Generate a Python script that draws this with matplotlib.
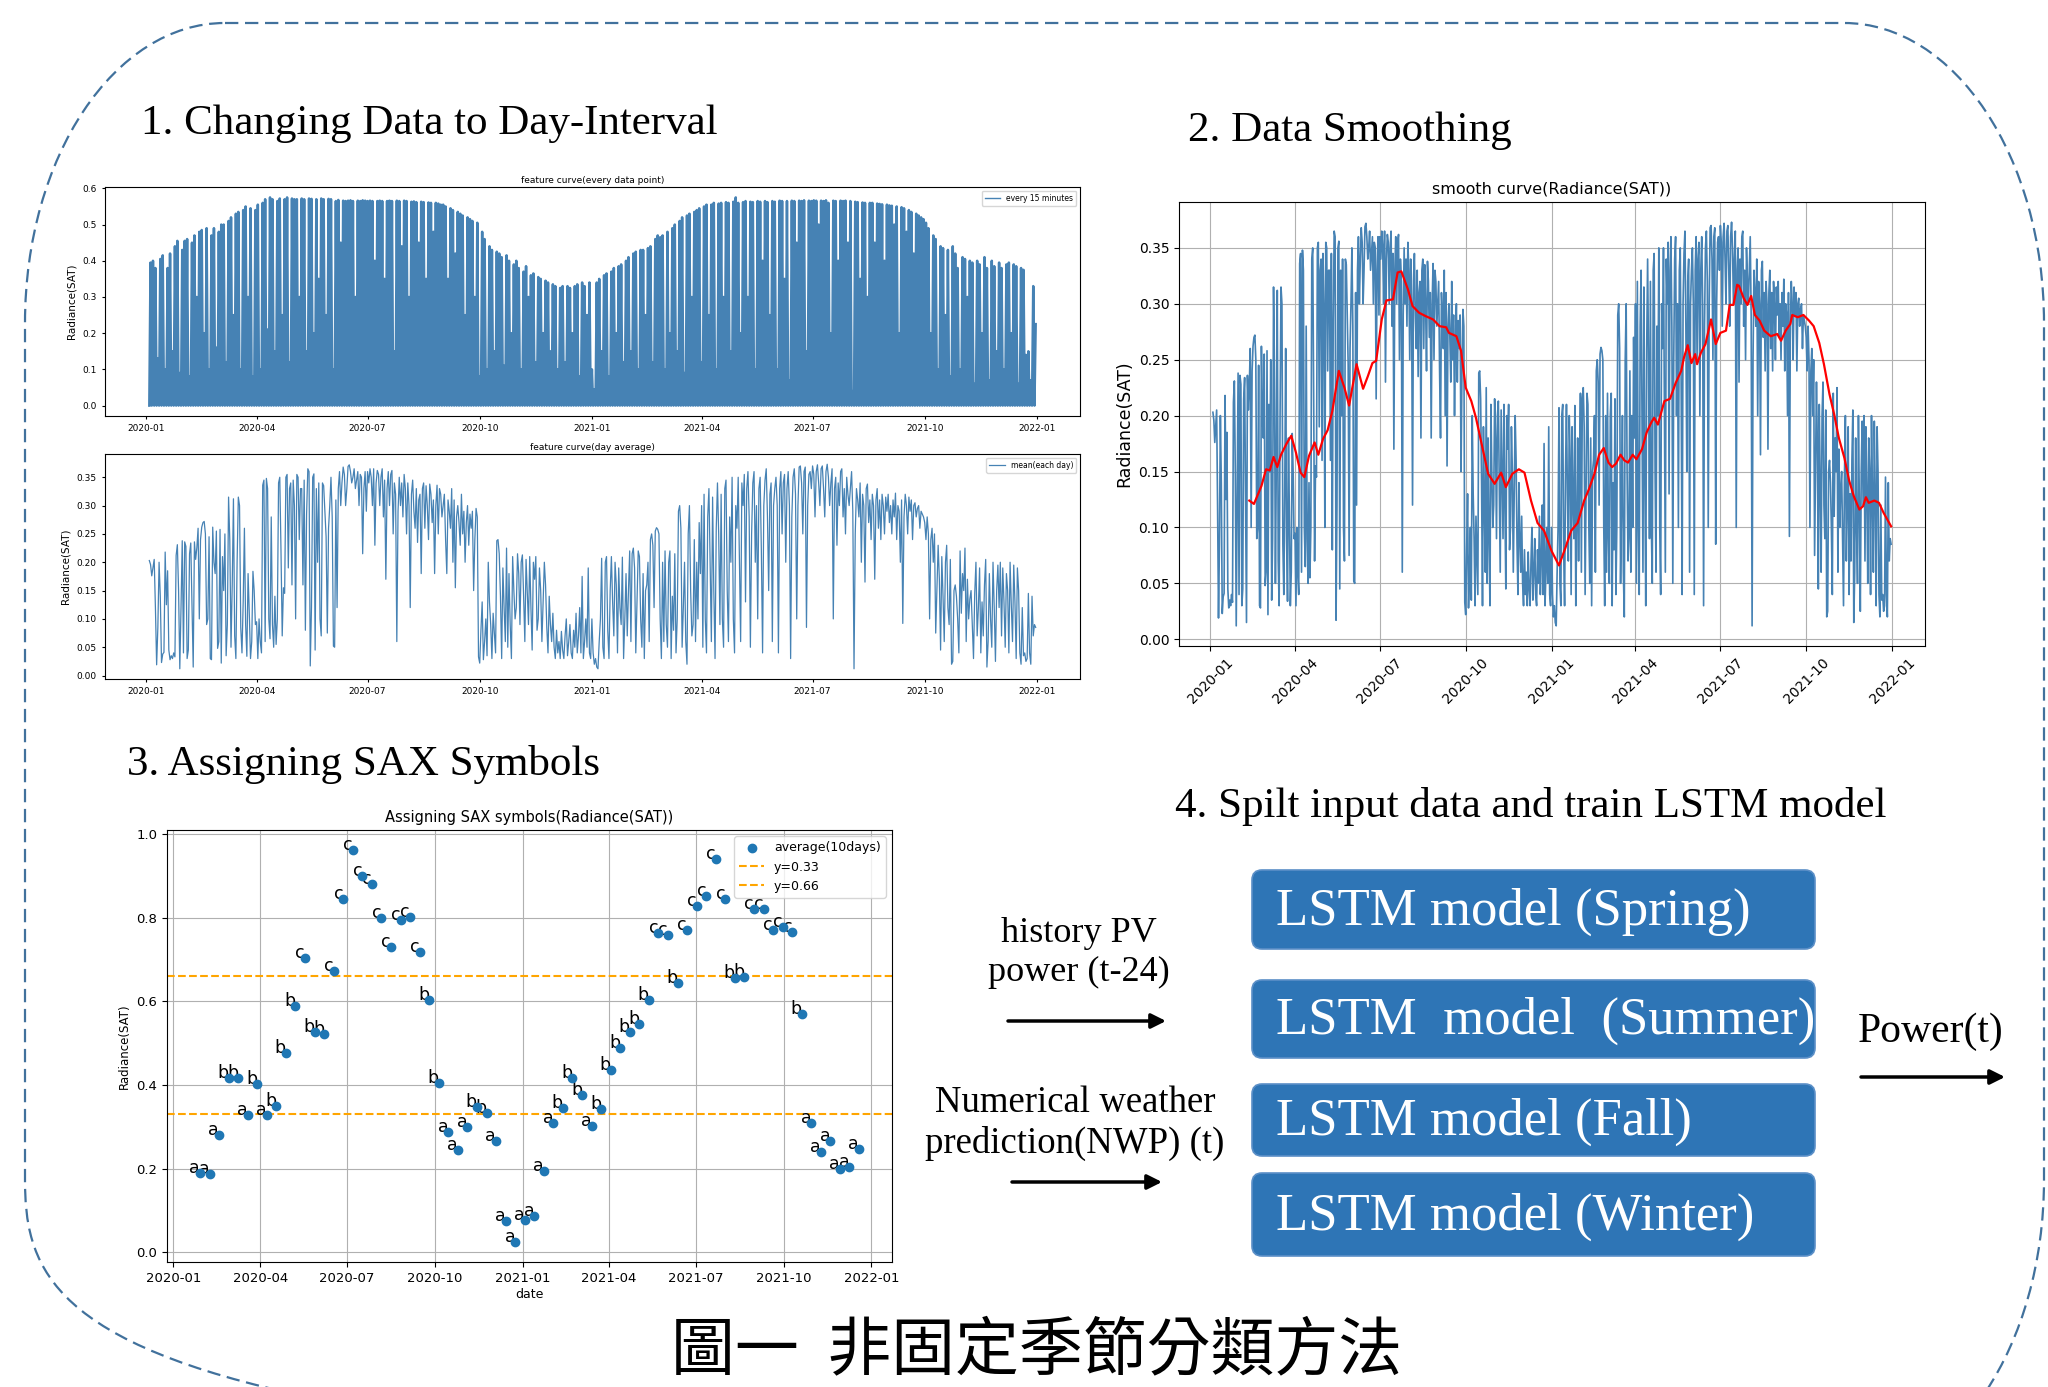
import numpy as np
import pandas as pd
import matplotlib
matplotlib.use('Agg')
import matplotlib.pyplot as plt
import matplotlib.dates as mdates
from matplotlib.path import Path
from matplotlib.patches import PathPatch, FancyBboxPatch

# 日平均輻射量 Radiance(SAT)，2020-01-04 起每日一筆
day_start = '2020-01-04'
day_mean_2020 = [
    0.203, 0.196, 0.176, 0.190, 0.205, 0.120, 0.019, 0.085, 0.200, 0.140, 0.023, 0.038, 0.041, 0.218,
    0.125, 0.185, 0.045, 0.028, 0.035, 0.030, 0.040, 0.033, 0.212, 0.231, 0.150, 0.012, 0.120, 0.238,
    0.040, 0.236, 0.228, 0.030, 0.045, 0.215, 0.234, 0.120, 0.015, 0.236, 0.205, 0.226, 0.260, 0.100, 0.240,
    0.262, 0.270, 0.272, 0.250, 0.090, 0.100, 0.245, 0.030, 0.028, 0.262, 0.200, 0.180, 0.255, 0.048,
    0.060, 0.258, 0.022, 0.210, 0.150, 0.250, 0.035, 0.090, 0.315, 0.240, 0.050, 0.160, 0.312, 0.070, 0.030,
    0.200, 0.315, 0.300, 0.085, 0.040, 0.130, 0.260, 0.090, 0.034, 0.180, 0.110, 0.030, 0.060, 0.184, 0.150, 0.090,
    0.095, 0.030, 0.100, 0.060, 0.040, 0.336, 0.345, 0.060, 0.348, 0.330, 0.100, 0.065, 0.280, 0.090, 0.050,
    0.140, 0.055, 0.100, 0.340, 0.350, 0.220, 0.070, 0.155, 0.145, 0.350, 0.355, 0.190, 0.330, 0.340, 0.160,
    0.345, 0.300, 0.100, 0.355, 0.350, 0.240, 0.330, 0.330, 0.160, 0.345, 0.080, 0.285, 0.365, 0.360, 0.017,
    0.120, 0.350, 0.356, 0.045, 0.330, 0.200, 0.340, 0.100, 0.070, 0.340, 0.335, 0.290, 0.245, 0.075, 0.260, 0.300,
    0.350, 0.280, 0.052, 0.050, 0.310, 0.120, 0.330, 0.360, 0.300, 0.340, 0.368, 0.355, 0.300, 0.330, 0.369,
    0.372, 0.360, 0.340, 0.350, 0.365, 0.330, 0.345, 0.360, 0.300, 0.355, 0.350, 0.215, 0.330, 0.360, 0.290,
    0.360, 0.340, 0.365, 0.350, 0.300, 0.365, 0.230, 0.340, 0.362, 0.355, 0.300, 0.350, 0.365, 0.280, 0.345,
    0.170, 0.330, 0.360, 0.300, 0.355, 0.362, 0.250, 0.340, 0.320, 0.060, 0.290, 0.350, 0.300, 0.340, 0.280, 0.355,
    0.330, 0.250, 0.340, 0.300, 0.120, 0.320, 0.345, 0.290, 0.260, 0.330, 0.235, 0.310, 0.320, 0.180, 0.330,
    0.340, 0.260, 0.335, 0.300, 0.240, 0.338, 0.320, 0.270, 0.310, 0.180, 0.300, 0.336, 0.250, 0.330, 0.320, 0.280,
    0.300, 0.320, 0.240, 0.180, 0.310, 0.290, 0.260, 0.330, 0.200, 0.310, 0.155, 0.280, 0.300, 0.270, 0.230,
    0.320, 0.250, 0.290, 0.200, 0.270, 0.300, 0.230, 0.285, 0.260, 0.290, 0.150, 0.240, 0.295, 0.280, 0.033,
    0.022, 0.080, 0.130, 0.028, 0.060, 0.100, 0.035, 0.200, 0.130, 0.090, 0.030, 0.110, 0.075, 0.040, 0.238,
    0.240, 0.215, 0.140, 0.030, 0.190, 0.120, 0.060, 0.225, 0.050, 0.180, 0.090, 0.030, 0.210, 0.150, 0.100, 0.120,
    0.215, 0.180, 0.090, 0.200, 0.213, 0.140, 0.060, 0.205, 0.150, 0.090, 0.210, 0.120, 0.045, 0.200, 0.170,
    0.210, 0.080, 0.100, 0.190, 0.150, 0.060, 0.130, 0.200, 0.160, 0.085, 0.040, 0.140, 0.090, 0.060, 0.110,
    0.050, 0.030, 0.080, 0.040, 0.060, 0.030, 0.078, 0.045, 0.030, 0.070, 0.100, 0.035, 0.060, 0.090, 0.040,
    0.030, 0.080, 0.050, 0.110, 0.040, 0.070, 0.120, 0.040, 0.175, 0.030, 0.060, 0.100, 0.050, 0.190, 0.040, 0.030,
]
day_mean_2021 = [
    0.100, 0.040, 0.020, 0.030, 0.015, 0.012, 0.060, 0.100, 0.207, 0.050, 0.030, 0.200, 0.210, 0.080, 0.030,
    0.150, 0.210, 0.130, 0.070, 0.200, 0.160, 0.040, 0.190, 0.120, 0.090, 0.209, 0.030, 0.100, 0.180, 0.070, 0.150,
    0.220, 0.060, 0.215, 0.225, 0.190, 0.040, 0.130, 0.220, 0.210, 0.100, 0.050, 0.180, 0.030, 0.150,
    0.160, 0.200, 0.060, 0.240, 0.250, 0.230, 0.120, 0.255, 0.261, 0.258, 0.250, 0.100, 0.030, 0.200,
    0.060, 0.220, 0.090, 0.050, 0.200, 0.220, 0.030, 0.140, 0.080, 0.215, 0.040, 0.100, 0.290, 0.300, 0.260,
    0.050, 0.120, 0.200, 0.060, 0.020, 0.250, 0.300, 0.150, 0.070, 0.090, 0.240, 0.060, 0.200, 0.100, 0.270, 0.180,
    0.300, 0.050, 0.320, 0.100, 0.040, 0.280, 0.330, 0.200, 0.060, 0.315, 0.150, 0.030, 0.260, 0.340, 0.250,
    0.090, 0.320, 0.100, 0.050, 0.330, 0.345, 0.150, 0.060, 0.280, 0.200, 0.350, 0.100, 0.040, 0.300, 0.260,
    0.350, 0.200, 0.060, 0.340, 0.300, 0.355, 0.130, 0.330, 0.360, 0.280, 0.050, 0.250, 0.340, 0.360, 0.200,
    0.300, 0.100, 0.330, 0.350, 0.220, 0.040, 0.300, 0.345, 0.365, 0.280, 0.150, 0.320, 0.340, 0.060, 0.300, 0.330,
    0.350, 0.300, 0.040, 0.330, 0.360, 0.250, 0.340, 0.355, 0.200, 0.330, 0.360, 0.300, 0.030, 0.280, 0.350,
    0.365, 0.320, 0.100, 0.300, 0.368, 0.370, 0.340, 0.250, 0.360, 0.368, 0.085, 0.300, 0.355, 0.360, 0.330,
    0.370, 0.355, 0.280, 0.360, 0.372, 0.340, 0.300, 0.365, 0.370, 0.330, 0.280, 0.360, 0.373, 0.350, 0.300,
    0.340, 0.365, 0.100, 0.330, 0.350, 0.230, 0.340, 0.300, 0.360, 0.365, 0.280, 0.330, 0.250, 0.350, 0.320, 0.300,
    0.330, 0.360, 0.290, 0.012, 0.250, 0.330, 0.310, 0.280, 0.340, 0.200, 0.320, 0.300, 0.165, 0.330, 0.338,
    0.270, 0.310, 0.240, 0.320, 0.300, 0.170, 0.310, 0.330, 0.260, 0.310, 0.240, 0.320, 0.300, 0.250, 0.315, 0.290,
    0.320, 0.270, 0.300, 0.250, 0.310, 0.280, 0.322, 0.240, 0.300, 0.290, 0.200, 0.310, 0.092, 0.280, 0.320,
    0.300, 0.250, 0.315, 0.290, 0.310, 0.240, 0.300, 0.305, 0.280, 0.295, 0.300, 0.260, 0.290, 0.285, 0.280,
    0.270, 0.240, 0.280, 0.250, 0.100, 0.240, 0.260, 0.200, 0.250, 0.075, 0.150, 0.230, 0.170, 0.045, 0.210,
    0.140, 0.060, 0.200, 0.230, 0.120, 0.090, 0.205, 0.020, 0.025, 0.150, 0.160, 0.140, 0.100, 0.040, 0.220, 0.110,
    0.180, 0.150, 0.225, 0.060, 0.170, 0.100, 0.135, 0.150, 0.090, 0.030, 0.145, 0.200, 0.070, 0.120, 0.190,
    0.040, 0.130, 0.070, 0.160, 0.205, 0.015, 0.060, 0.180, 0.100, 0.050, 0.200, 0.120, 0.025, 0.150, 0.195,
    0.120, 0.200, 0.070, 0.190, 0.130, 0.050, 0.180, 0.150, 0.040, 0.200, 0.125, 0.060, 0.195, 0.130, 0.030,
    0.190, 0.150, 0.040, 0.020, 0.120, 0.035, 0.040, 0.025, 0.030, 0.145, 0.040, 0.020, 0.140, 0.070, 0.090, 0.085,
]

# 15 分鐘資料每兩天的日最高值
peak_start = '2020-01-04'
peak_2d = [
    0.395, 0.400, 0.380, 0.130, 0.405, 0.415, 0.100, 0.380, 0.420, 0.150, 0.440, 0.455, 0.090, 0.430, 0.455,
    0.460, 0.080, 0.450, 0.470, 0.300, 0.480, 0.485, 0.200, 0.490, 0.100, 0.470, 0.490, 0.160, 0.480, 0.500,
    0.500, 0.120, 0.510, 0.520, 0.250, 0.530, 0.535, 0.100, 0.540, 0.550, 0.300, 0.545, 0.080, 0.540, 0.555,
    0.100, 0.560, 0.570, 0.210, 0.575, 0.570, 0.150, 0.565, 0.572, 0.250, 0.570, 0.575, 0.120, 0.572, 0.570,
    0.570, 0.300, 0.572, 0.570, 0.150, 0.572, 0.571, 0.200, 0.570, 0.350, 0.572, 0.570, 0.250, 0.571, 0.570,
    0.100, 0.565, 0.568, 0.450, 0.566, 0.565, 0.566, 0.567, 0.565, 0.300, 0.566, 0.565, 0.567, 0.566, 0.565,
    0.566, 0.565, 0.400, 0.565, 0.566, 0.565, 0.350, 0.565, 0.566, 0.565, 0.150, 0.566, 0.565, 0.440, 0.566,
    0.565, 0.300, 0.563, 0.564, 0.562, 0.450, 0.563, 0.562, 0.350, 0.561, 0.560, 0.480, 0.560, 0.558, 0.555,
    0.555, 0.550, 0.350, 0.545, 0.540, 0.420, 0.535, 0.530, 0.525, 0.250, 0.520, 0.515, 0.510, 0.300, 0.505,
    0.080, 0.480, 0.460, 0.100, 0.440, 0.430, 0.150, 0.425, 0.420, 0.410, 0.110, 0.415, 0.400, 0.200, 0.390,
    0.400, 0.380, 0.100, 0.370, 0.385, 0.300, 0.360, 0.365, 0.120, 0.355, 0.350, 0.200, 0.345, 0.340, 0.150,
    0.335, 0.330, 0.100, 0.325, 0.330, 0.120, 0.330, 0.325, 0.200, 0.330, 0.335, 0.080, 0.340, 0.330, 0.250,
    0.340, 0.100, 0.045, 0.340, 0.350, 0.150, 0.360, 0.365, 0.080, 0.370, 0.380, 0.200, 0.385, 0.390, 0.120,
    0.400, 0.410, 0.150, 0.420, 0.425, 0.100, 0.430, 0.430, 0.250, 0.435, 0.440, 0.120, 0.460, 0.470, 0.465,
    0.470, 0.100, 0.480, 0.200, 0.490, 0.500, 0.150, 0.510, 0.520, 0.090, 0.525, 0.530, 0.300, 0.535, 0.540,
    0.545, 0.120, 0.550, 0.555, 0.250, 0.555, 0.560, 0.100, 0.558, 0.560, 0.300, 0.562, 0.560, 0.150, 0.563,
    0.575, 0.560, 0.200, 0.562, 0.565, 0.300, 0.563, 0.562, 0.100, 0.565, 0.563, 0.400, 0.565, 0.562, 0.250,
    0.565, 0.563, 0.100, 0.566, 0.565, 0.350, 0.565, 0.070, 0.566, 0.565, 0.450, 0.566, 0.565, 0.567, 0.150,
    0.566, 0.565, 0.567, 0.566, 0.500, 0.566, 0.565, 0.567, 0.560, 0.200, 0.566, 0.565, 0.400, 0.566, 0.565,
    0.566, 0.450, 0.565, 0.040, 0.563, 0.562, 0.350, 0.561, 0.560, 0.300, 0.560, 0.560, 0.450, 0.558, 0.557,
    0.556, 0.400, 0.555, 0.553, 0.552, 0.500, 0.550, 0.200, 0.548, 0.545, 0.480, 0.540, 0.535, 0.420, 0.530,
    0.525, 0.520, 0.515, 0.505, 0.490, 0.200, 0.470, 0.460, 0.100, 0.440, 0.435, 0.250, 0.430, 0.080, 0.440,
    0.420, 0.380, 0.100, 0.410, 0.405, 0.300, 0.400, 0.395, 0.060, 0.400, 0.390, 0.200, 0.410, 0.380, 0.070,
    0.400, 0.385, 0.150, 0.395, 0.380, 0.100, 0.390, 0.395, 0.200, 0.390, 0.385, 0.060, 0.380, 0.375, 0.140,
    0.150, 0.070, 0.330, 0.225,
]

# 平滑後曲線（紅線）
smooth_dates = [
    '2020-02-12', '2020-02-17', '2020-02-25', '2020-03-01', '2020-03-05', '2020-03-09', '2020-03-13',
    '2020-03-17', '2020-03-23', '2020-03-28', '2020-04-02', '2020-04-07', '2020-04-11', '2020-04-16',
    '2020-04-22', '2020-04-26', '2020-05-01', '2020-05-06', '2020-05-11', '2020-05-18', '2020-05-24',
    '2020-05-29', '2020-06-06', '2020-06-13', '2020-06-18', '2020-06-23', '2020-06-27', '2020-07-03',
    '2020-07-08', '2020-07-15', '2020-07-20', '2020-07-24', '2020-07-31', '2020-08-05', '2020-08-12',
    '2020-08-19', '2020-08-27', '2020-09-03', '2020-09-10', '2020-09-13', '2020-09-21', '2020-09-26',
    '2020-10-01', '2020-10-07', '2020-10-12', '2020-10-19', '2020-10-25', '2020-11-01', '2020-11-08',
    '2020-11-13', '2020-11-20', '2020-11-27', '2020-12-03', '2020-12-10', '2020-12-17', '2020-12-24',
    '2021-01-01', '2021-01-09', '2021-01-16', '2021-01-22', '2021-01-29', '2021-02-05', '2021-02-10',
    '2021-02-16', '2021-02-21', '2021-02-26', '2021-03-03', '2021-03-07', '2021-03-11', '2021-03-16',
    '2021-03-20', '2021-03-24', '2021-03-29', '2021-04-02', '2021-04-08', '2021-04-13', '2021-04-18',
    '2021-04-21', '2021-04-25', '2021-04-28', '2021-05-02', '2021-05-08', '2021-05-14', '2021-05-20',
    '2021-05-23', '2021-05-27', '2021-05-31', '2021-06-04', '2021-06-06', '2021-06-10', '2021-06-15',
    '2021-06-21', '2021-06-26', '2021-07-01', '2021-07-07', '2021-07-11', '2021-07-15', '2021-07-19',
    '2021-07-21', '2021-07-26', '2021-07-30', '2021-08-03', '2021-08-07', '2021-08-12', '2021-08-17',
    '2021-08-24', '2021-08-31', '2021-09-04', '2021-09-09', '2021-09-14', '2021-09-16', '2021-09-22',
    '2021-09-28', '2021-10-04', '2021-10-09', '2021-10-15', '2021-10-20', '2021-10-26', '2021-10-31',
    '2021-11-05', '2021-11-11', '2021-11-16', '2021-11-21', '2021-11-27', '2021-12-01', '2021-12-04',
    '2021-12-07', '2021-12-13', '2021-12-18', '2021-12-23', '2021-12-31',
]
smooth_vals = [
    0.124, 0.121, 0.137, 0.152, 0.151, 0.163, 0.154, 0.165, 0.175, 0.182, 0.167, 0.149, 0.145, 0.164,
    0.176, 0.165, 0.179, 0.187, 0.204, 0.240, 0.225, 0.209, 0.246, 0.224, 0.235, 0.247, 0.249, 0.286,
    0.303, 0.304, 0.328, 0.329, 0.313, 0.298, 0.292, 0.289, 0.286, 0.280, 0.279, 0.274, 0.271, 0.258,
    0.225, 0.213, 0.198, 0.171, 0.148, 0.139, 0.149, 0.136, 0.148, 0.152, 0.149, 0.124, 0.104, 0.097,
    0.079, 0.066, 0.082, 0.097, 0.104, 0.124, 0.134, 0.148, 0.165, 0.171, 0.158, 0.154, 0.157, 0.165,
    0.160, 0.158, 0.165, 0.161, 0.170, 0.185, 0.194, 0.198, 0.192, 0.201, 0.213, 0.215, 0.229, 0.240,
    0.252, 0.263, 0.247, 0.255, 0.246, 0.256, 0.264, 0.286, 0.264, 0.274, 0.276, 0.299, 0.299, 0.317,
    0.316, 0.305, 0.299, 0.307, 0.290, 0.285, 0.276, 0.271, 0.273, 0.267, 0.276, 0.282, 0.290, 0.288,
    0.290, 0.285, 0.280, 0.265, 0.246, 0.219, 0.201, 0.180, 0.162, 0.142, 0.128, 0.116, 0.119, 0.127,
    0.122, 0.124, 0.122, 0.113, 0.101,
]

# SAX：每 10 天平均（正規化）與對應符號
sax_start = '2020-01-29'
sax_vals = [
    0.189, 0.187, 0.280, 0.418, 0.416, 0.329, 0.402, 0.328, 0.350, 0.477,
    0.589, 0.705, 0.527, 0.523, 0.673, 0.844, 0.963, 0.899, 0.880, 0.799,
    0.730, 0.794, 0.802, 0.719, 0.604, 0.406, 0.289, 0.245, 0.301, 0.348,
    0.333, 0.267, 0.074, 0.024, 0.077, 0.088, 0.194, 0.309, 0.346, 0.417,
    0.376, 0.302, 0.343, 0.437, 0.488, 0.528, 0.546, 0.604, 0.764, 0.758,
    0.644, 0.772, 0.828, 0.853, 0.941, 0.846, 0.656, 0.659, 0.822, 0.822,
    0.770, 0.778, 0.766, 0.571, 0.309, 0.240, 0.266, 0.199, 0.205, 0.247,
]
sax_symbols = list('aaabbababb' 'bcbbcccccc' 'ccccbbaaab' 'baaaaaaabb'
                   'babbbbbbcc' 'bcccccbbcc' 'cccbaaaaaa')
sax_cuts = [0.33, 0.66]

season_models = ['LSTM model (Spring)', 'LSTM  model  (Summer)',
                 'LSTM model (Fall)', 'LSTM model (Winter)']

SERIF = ['Liberation Serif', 'DejaVu Serif']
CJK = ['Noto Sans CJK TC', 'DejaVu Sans']

W, H = 2048, 1387
fig = plt.figure(figsize=(W / 100, H / 100), dpi=100)


def rect(l, t, r, b):
    # 以像素（左上為原點）換算成 figure 座標
    return [l / W, 1 - b / H, (r - l) / W, (b - t) / H]


def date_axis(ax):
    ax.xaxis.set_major_locator(mdates.MonthLocator(bymonth=[1, 4, 7, 10]))
    ax.xaxis.set_major_formatter(mdates.DateFormatter('%Y-%m'))


# 底層：外框、標題、流程圖
bg = fig.add_axes([0, 0, 1, 1])
bg.set_xlim(0, W)
bg.set_ylim(H, 0)
bg.axis('off')

x0, y0, x1, y1, rx, ry = 25, 23, 2044, 1480, 200, 300
k = 0.5523
verts = [(x0 + rx, y0), (x1 - rx, y0),
         (x1 - rx + k * rx, y0), (x1, y0 + ry - k * ry), (x1, y0 + ry),
         (x1, y1 - ry),
         (x1, y1 - ry + k * ry), (x1 - rx + k * rx, y1), (x1 - rx, y1),
         (x0 + rx, y1),
         (x0 + rx - k * rx, y1), (x0, y1 - ry + k * ry), (x0, y1 - ry),
         (x0, y0 + ry),
         (x0, y0 + ry - k * ry), (x0 + rx - k * rx, y0), (x0 + rx, y0)]
codes = [Path.MOVETO, Path.LINETO, Path.CURVE4, Path.CURVE4, Path.CURVE4, Path.LINETO,
         Path.CURVE4, Path.CURVE4, Path.CURVE4, Path.LINETO, Path.CURVE4, Path.CURVE4,
         Path.CURVE4, Path.LINETO, Path.CURVE4, Path.CURVE4, Path.CURVE4]
bg.add_patch(PathPatch(Path(verts, codes), fill=False, edgecolor='#41719C',
                       lw=1.6, linestyle=(0, (6, 3))))

bg.text(141, 124, '1. Changing Data to Day-Interval', family=SERIF, fontsize=31, va='center')
bg.text(1188, 131, '2. Data Smoothing', family=SERIF, fontsize=31, va='center')
bg.text(127, 765, '3. Assigning SAX Symbols', family=SERIF, fontsize=31, va='center')
bg.text(1175, 806, '4. Spilt input data and train LSTM model', family=SERIF, fontsize=31, va='center')

box_rows = [(870, 949), (980, 1058), (1084, 1156), (1173, 1256)]
for name, (top, bot) in zip(season_models, box_rows):
    bg.add_patch(FancyBboxPatch((1252, top), 563, bot - top,
                                boxstyle='round,pad=0,rounding_size=10',
                                facecolor='#2E75B6', edgecolor='#5B8FC7', lw=1.2))
    bg.text(1276, (top + bot) / 2 + 2, name, family=SERIF, fontsize=38,
            color='white', va='center', ha='left')

bg.text(1079, 953, 'history PV\npower (t-24)', family=SERIF, fontsize=26,
        ha='center', va='center', linespacing=1.2)
bg.text(1075, 1123, 'Numerical weather\nprediction(NWP) (t)', family=SERIF, fontsize=26.5,
        ha='center', va='center', linespacing=1.2)
bg.text(1931, 1032, 'Power(t)', family=SERIF, fontsize=30, ha='center', va='center')

arrow = dict(arrowstyle='-|>', lw=2.5, color='black', mutation_scale=22, shrinkA=0, shrinkB=0)
bg.annotate('', xy=(1166, 1021), xytext=(1008, 1021), arrowprops=arrow)
bg.annotate('', xy=(1162, 1182), xytext=(1012, 1182), arrowprops=arrow)
bg.annotate('', xy=(2005, 1077), xytext=(1861, 1077), arrowprops=arrow)

bg.text(1037, 1351, '圖一  非固定季節分類方法', family=CJK, fontsize=46,
        fontweight='light', ha='center', va='center')

# 日資料
day_mean = np.array(day_mean_2020 + day_mean_2021)
t_day = pd.date_range(day_start, periods=len(day_mean), freq='D')

# 1a. 每 15 分鐘資料：夜間為 0，白天到達當日最高值
t_peak = pd.date_range(peak_start, periods=len(peak_2d), freq='2D')
xs = np.empty(2 * len(peak_2d), dtype='datetime64[ns]')
xs[0::2] = t_peak.values
xs[1::2] = (t_peak + pd.Timedelta(days=1)).values
ys = np.zeros(2 * len(peak_2d))
ys[1::2] = peak_2d

ax1 = fig.add_axes(rect(105, 187, 1080, 416))
ax1.plot(xs, ys, color='steelblue', lw=1.8, label='every 15 minutes')
ax1.set_title('feature curve(every data point)', fontsize=6.5, pad=3)
ax1.set_ylabel('Radiance(SAT)', fontsize=7.5)
leg = ax1.legend(loc='upper right', fontsize=5.5)
leg.get_lines()[0].set_linewidth(1.0)
ax1.tick_params(labelsize=6.5, length=2.5)
date_axis(ax1)

# 1b. 日平均
ax2 = fig.add_axes(rect(105, 454, 1080, 679))
ax2.plot(t_day, day_mean, color='steelblue', lw=0.9, label='mean(each day)')
ax2.set_title('feature curve(day average)', fontsize=6.5, pad=3)
ax2.set_ylabel('Radiance(SAT)', fontsize=7.5)
ax2.legend(loc='upper right', fontsize=5.5)
ax2.tick_params(labelsize=6.5, length=2.5)
date_axis(ax2)

# 2. 平滑曲線
ax3 = fig.add_axes(rect(1179, 202, 1925, 646))
ax3.plot(t_day, day_mean, color='steelblue', lw=1.2)
ax3.plot(pd.to_datetime(smooth_dates), smooth_vals, color='red', lw=1.6)
ax3.set_title('smooth curve(Radiance(SAT))', fontsize=11.5)
ax3.set_ylabel('Radiance(SAT)', fontsize=12.5)
ax3.grid(True)
ax3.tick_params(labelsize=10)
date_axis(ax3)
for lab in ax3.get_xticklabels():
    lab.set_rotation(45)

# 3. SAX 符號
t_sax = pd.date_range(sax_start, periods=len(sax_vals), freq='10D')
ax4 = fig.add_axes(rect(167, 830, 892, 1262))
ax4.scatter(t_sax, sax_vals, s=36, color='#1f77b4', zorder=3, label='average(10days)')
for cut in sax_cuts:
    ax4.axhline(cut, color='orange', ls='--', lw=1.5, label='y=%.2f' % cut)
for t, v, sym in zip(t_sax, sax_vals, sax_symbols):
    ax4.text(t, v, sym, fontsize=12.5, ha='right', va='baseline', zorder=2)
ax4.set_title('Assigning SAX symbols(Radiance(SAT))', fontsize=10.5)
ax4.set_ylabel('Radiance(SAT)', fontsize=8.5)
ax4.set_xlabel('date', fontsize=9, labelpad=2)
ax4.grid(True)
ax4.legend(loc='upper right', fontsize=9)
ax4.tick_params(labelsize=9.5)
date_axis(ax4)

fig.savefig('out.png', dpi=100)
